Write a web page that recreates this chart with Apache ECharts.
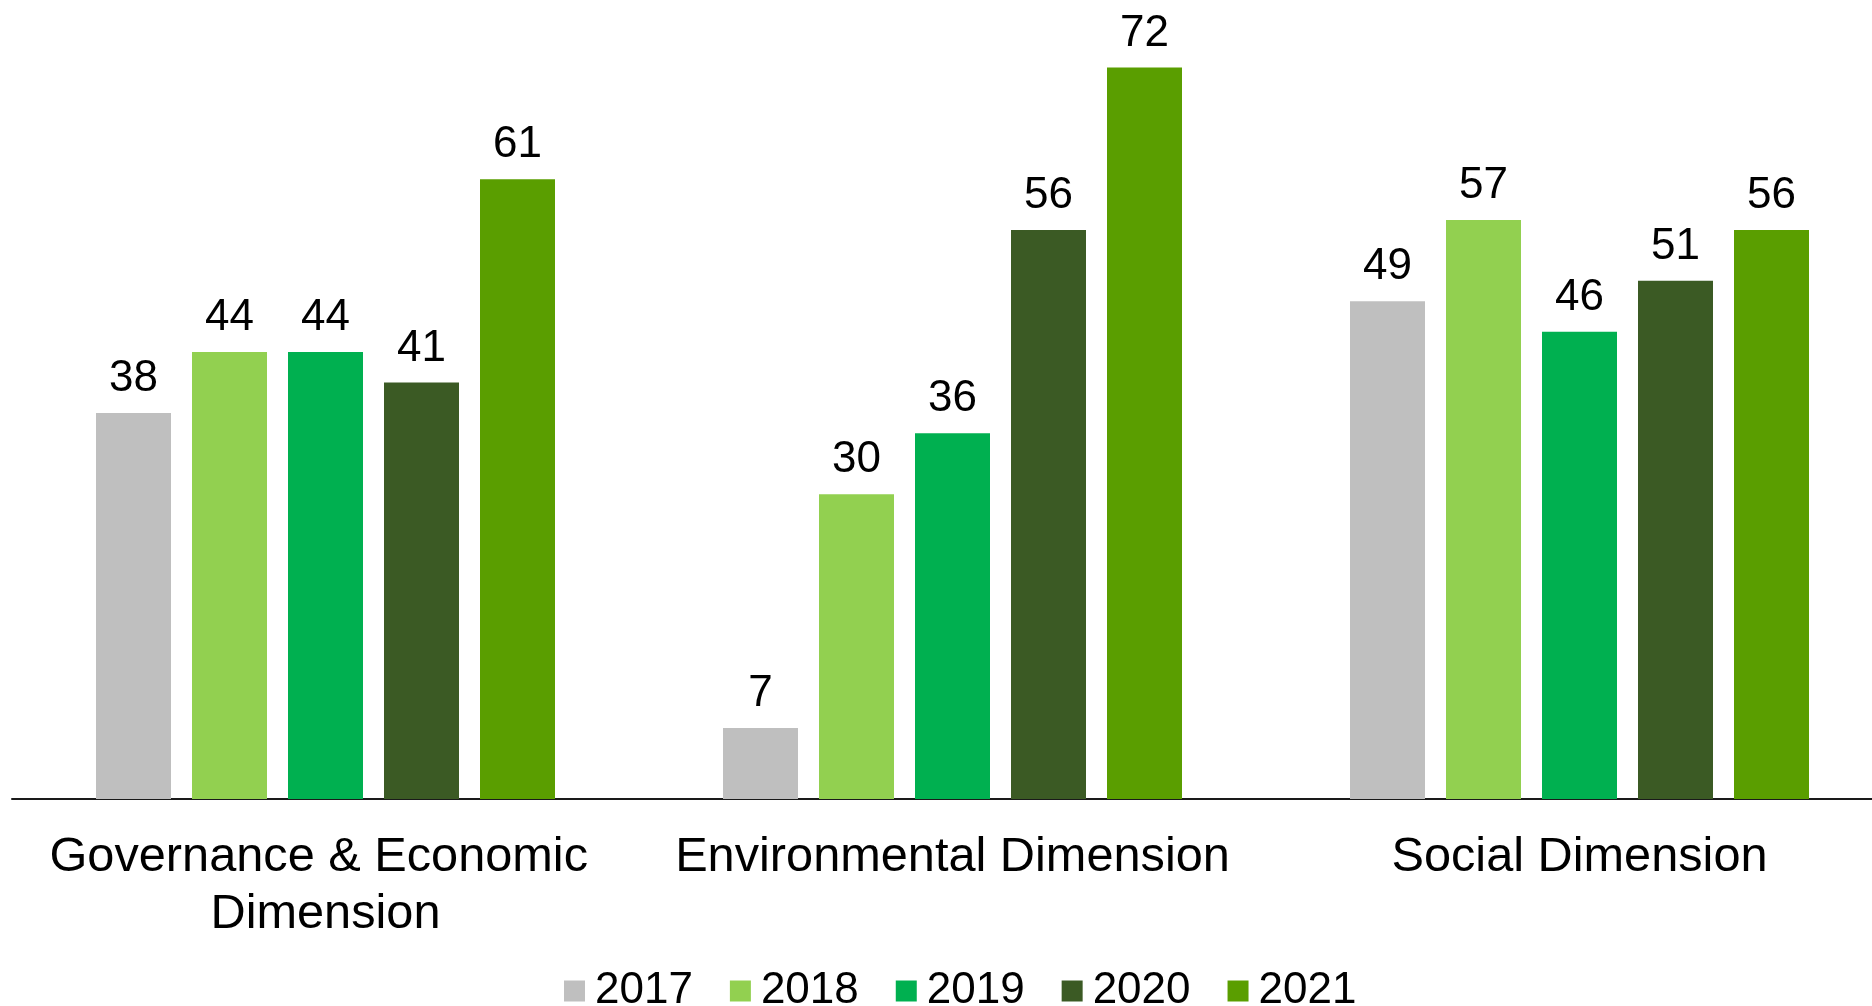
<!DOCTYPE html>
<html>
<head>
<meta charset="utf-8">
<script src="https://cdn.jsdelivr.net/npm/echarts@6/dist/echarts.min.js"></script>
<style>
html,body{margin:0;padding:0;background:#fff;overflow:hidden;}
#chart{width:1893px;height:1006px;}
</style>
</head>
<body>
<div id="chart"></div>
<script>
const categories = ["Governance & Economic Dimension", "Environmental Dimension", "Social Dimension"];
const years = ["2017", "2018", "2019", "2020", "2021"];
const values2017 = [38, 7, 49];
const values2018 = [44, 30, 57];
const values2019 = [44, 36, 46];
const values2020 = [41, 56, 51];
const values2021 = [61, 72, 56];
const colors = ["#BFBFBF", "#92D050", "#00B050", "#3B5A24", "#5A9E00"];

const seriesValues = [values2017, values2018, values2019, values2020, values2021];
const FONT = '"Liberation Sans", Arial, sans-serif';

const chart = echarts.init(document.getElementById('chart'));
chart.setOption({
  backgroundColor: '#ffffff',
  animation: false,
  textStyle: { fontFamily: FONT },
  grid: { left: 12, top: 37, right: 0, bottom: 207, containLabel: false },
  legend: {
    data: years,
    left: 559,
    top: 964,
    icon: 'rect',
    itemWidth: 21,
    itemHeight: 21,
    itemGap: 37,
    textStyle: { fontFamily: FONT, fontSize: 44, color: '#000', padding: [0, 0, 0, 5] }
  },
  xAxis: {
    type: 'category',
    data: categories,
    axisLine: { lineStyle: { color: '#1a1a1a', width: 2 } },
    axisTick: { show: false },
    axisLabel: {
      fontFamily: FONT, fontSize: 48.7, color: '#000', margin: 30,
      lineHeight: 57, width: 580, overflow: 'break', interval: 0
    }
  },
  yAxis: { type: 'value', min: 0, max: 75, show: false, splitLine: { show: false } },
  series: years.map((y, i) => ({
    name: y,
    type: 'bar',
    data: seriesValues[i],
    barWidth: 75,
    barGap: '28%',
    itemStyle: { color: colors[i] },
    label: { show: true, position: 'top', distance: 12, fontFamily: FONT, fontSize: 44, color: '#000' }
  }))
});
</script>
</body>
</html>
